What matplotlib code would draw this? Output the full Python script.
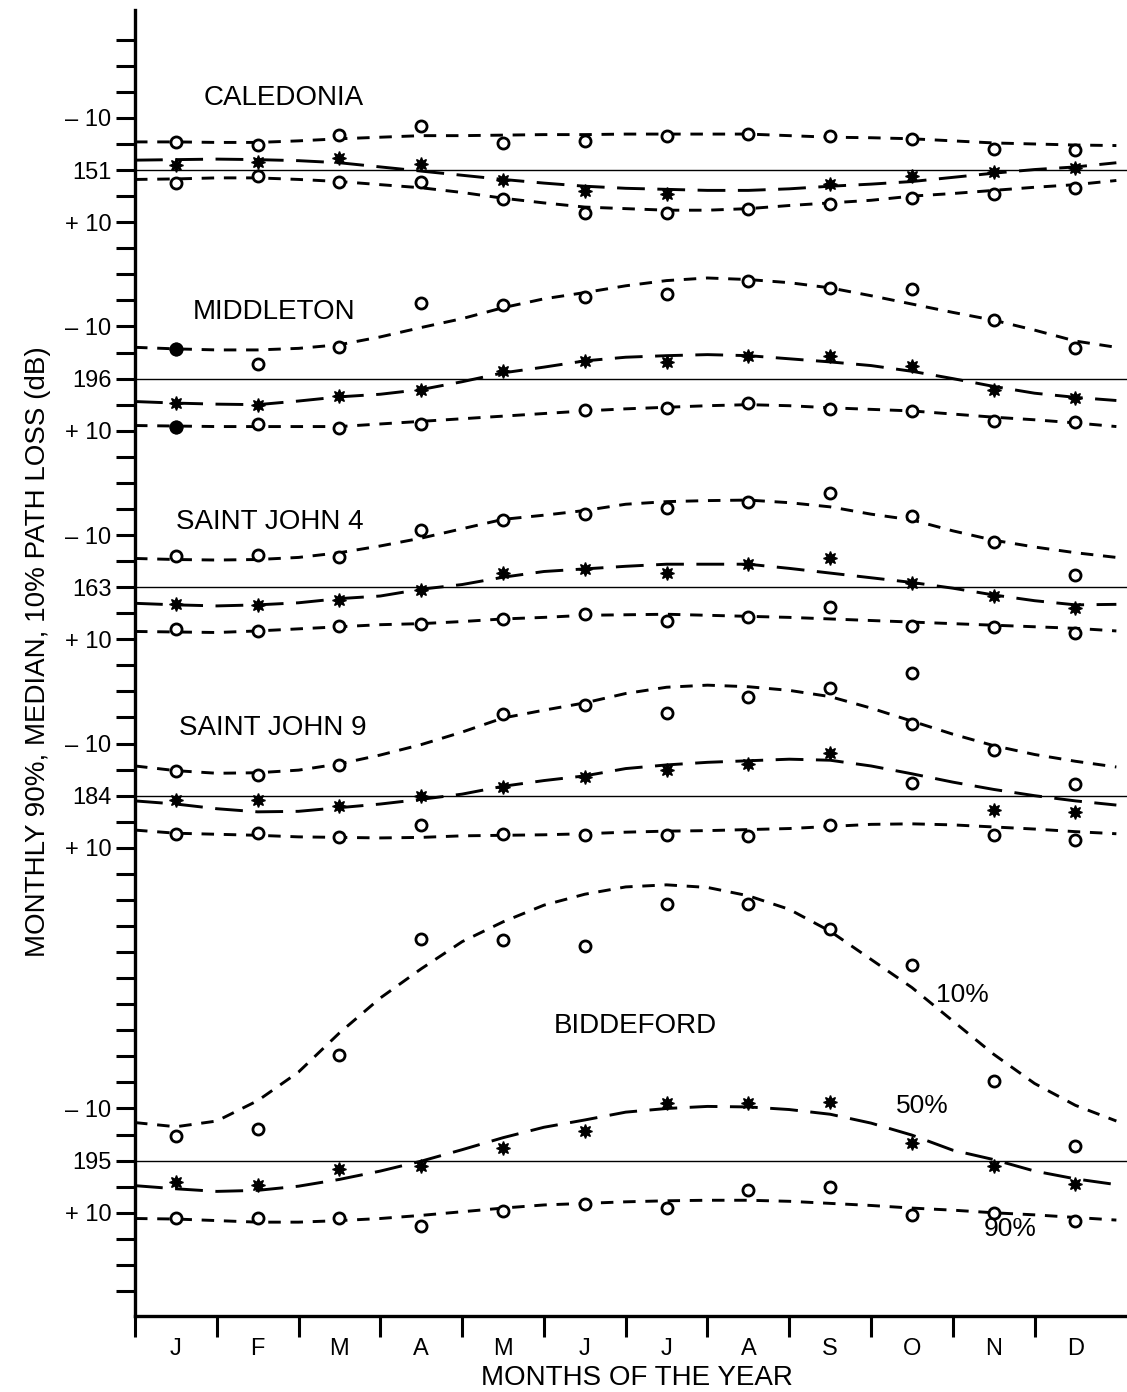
import numpy as np
import matplotlib
matplotlib.use('Agg')
import matplotlib.pyplot as plt

plt.rcParams['font.family'] = ['Liberation Sans', 'DejaVu Sans']
plt.rcParams['lines.scale_dashes'] = False

nan = np.nan

# months / stations
months = ['J', 'F', 'M', 'A', 'M', 'J', 'J', 'A', 'S', 'O', 'N', 'D']
stations = ['CALEDONIA', 'MIDDLETON', 'SAINT JOHN 4', 'SAINT JOHN 9', 'BIDDEFORD']
ref_loss = ['151', '196', '163', '184', '195']
offsets = [0, 40, 80, 120, 190]          # where each station's median sits on the axis (dB)

# monthly values, dB relative to the station's median (negative = less loss, drawn up)
cal_p10 = [-5.3, -4.9, -6.7, -8.4, -5.1, -5.5, -6.6, -7.0, -6.6, -6.0, -4.1, -3.9]
cal_p50 = [-0.9, -1.5, -2.3, -1.1, 2.0, 4.1, 4.5, nan, 2.6, 1.2, 0.3, -0.3]
cal_p90 = [2.5, 1.2, 2.3, 2.2, 5.6, 8.3, 8.3, 7.4, 6.6, 5.3, 4.5, 3.4]

mid_p10 = [-5.7, -2.8, -6.1, -14.5, -14.2, -15.7, -16.2, -18.7, -17.4, -17.2, -11.2, -5.9]
mid_p50 = [4.7, 5.0, 3.3, 2.2, -1.5, -3.4, -3.2, -4.3, -4.3, -2.4, 2.2, 3.7]
mid_p90 = [9.3, 8.7, 9.4, 8.7, nan, 6.0, 5.6, 4.7, 5.9, 6.2, 8.2, 8.3]
mid_filled = [0]                        # January circles are drawn solid

sj4_p10 = [-6.0, -6.2, -5.8, -11.0, -12.9, -14.0, -15.2, -16.3, -18.0, -13.6, -8.6, -2.3]
sj4_p50 = [3.2, 3.4, 2.5, 0.5, -2.7, -3.5, -2.7, -4.4, -5.6, -0.7, 1.7, 4.0]
sj4_p90 = [8.0, 8.4, 7.4, 7.1, 6.1, 5.2, 6.5, 5.8, 3.8, 7.5, 7.7, 8.8]

sj9_p10 = [-4.8, -3.9, -5.8, nan, -15.6, -17.3, -15.8, -19.0, -20.7, -13.8, -8.8, -2.3]
sj9_p50 = [0.9, 0.9, 1.9, 0.0, -1.6, -3.6, -5.0, -6.1, -8.2, nan, 2.7, 3.1]
sj9_p90 = [7.3, 7.1, 8.0, 5.7, 7.3, 7.5, 7.5, 7.7, 5.6, nan, 7.5, 8.5]
sj9_extra_month = [9, 9]               # two stray circles in October
sj9_extra_val = [-23.6, -2.5]

bid_p10 = [-4.7, -6.1, -20.3, -42.5, -42.3, -41.2, -49.2, -49.2, -44.4, -37.5, -15.2, -2.9]
bid_p50 = [4.1, 4.7, 1.6, 1.1, -2.4, -5.7, -11.0, -11.0, -11.2, -3.3, 1.1, 4.5]
bid_p90 = [11.0, 11.0, 11.0, 12.6, 9.7, 8.4, 9.1, 5.7, 5.1, 10.5, 10.1, 11.5]

# smoothed curves, read every half month from 0 to 12
curve_x = np.arange(25) * 0.5
cal_c10 = [-5.4, -5.4, -5.3, -5.3, -5.6, -6.0, -6.3, -6.6, -6.6, -6.7, -6.8, -6.8, -6.9,
           -6.9, -6.9, -6.9, -6.6, -6.3, -6.2, -6.0, -5.6, -5.2, -5.0, -4.8, -4.7]
cal_c50 = [-1.9, -2.0, -2.1, -2.0, -1.8, -1.4, -0.6, 0.2, 1.0, 1.8, 2.5, 3.1, 3.5,
           3.7, 3.9, 3.9, 3.6, 3.1, 2.7, 2.2, 1.4, 0.6, -0.1, -0.6, -1.4]
cal_c90 = [1.8, 1.7, 1.5, 1.5, 1.8, 2.2, 2.8, 3.4, 4.3, 5.4, 6.3, 7.1, 7.4,
           7.7, 7.7, 7.4, 6.8, 6.3, 5.8, 5.0, 4.5, 3.9, 3.3, 2.8, 2.0]

mid_c10 = [-6.0, -5.7, -5.5, -5.5, -5.8, -6.5, -8.0, -9.8, -11.5, -13.6, -15.3, -16.5, -17.8,
           -18.8, -19.3, -19.0, -18.4, -17.4, -15.9, -14.3, -12.7, -11.2, -9.3, -7.2, -6.0]
mid_c50 = [4.4, 4.7, 4.9, 5.0, 4.3, 3.5, 3.0, 2.1, 0.6, -1.1, -2.2, -3.4, -4.1,
           -4.4, -4.6, -4.4, -3.8, -3.2, -2.5, -1.4, 0.0, 1.5, 2.8, 3.6, 4.2]
mid_c90 = [9.0, 9.1, 9.2, 9.2, 9.2, 9.2, 8.7, 8.2, 7.7, 7.2, 6.7, 6.2, 5.8,
           5.5, 5.2, 5.0, 5.2, 5.6, 5.9, 6.2, 6.8, 7.4, 7.9, 8.5, 9.2]

sj4_c10 = [-5.5, -5.3, -5.2, -5.3, -5.7, -6.6, -7.9, -9.4, -11.2, -13.0, -13.8, -14.7, -15.9,
           -16.4, -16.6, -16.7, -16.2, -15.4, -14.0, -12.9, -10.8, -9.0, -7.7, -6.6, -5.7]
sj4_c50 = [3.1, 3.4, 3.6, 3.4, 3.0, 2.2, 1.7, 0.4, -0.5, -1.9, -3.0, -3.5, -4.0,
           -4.4, -4.4, -4.4, -3.6, -2.7, -1.8, -0.9, 0.2, 1.5, 2.6, 3.4, 3.3]
sj4_c90 = [8.5, 8.6, 8.7, 8.4, 8.0, 7.6, 7.2, 7.0, 6.6, 6.1, 5.8, 5.4, 5.3,
           5.2, 5.4, 5.6, 5.8, 6.1, 6.4, 6.7, 7.0, 7.3, 7.6, 7.9, 8.4]

sj9_c10 = [-5.7, -4.8, -4.3, -4.4, -4.9, -6.1, -7.8, -9.8, -12.2, -14.9, -16.4, -17.8, -19.6,
           -20.8, -21.2, -20.9, -20.2, -19.0, -16.8, -14.3, -11.8, -9.6, -7.9, -6.6, -5.5]
sj9_c50 = [1.0, 1.6, 2.5, 3.1, 3.0, 2.3, 1.6, 0.7, -0.3, -1.8, -2.9, -3.8, -5.2,
           -5.9, -6.4, -6.7, -7.0, -6.8, -5.7, -4.2, -2.6, -1.2, 0.0, 1.0, 1.8]
sj9_c90 = [6.6, 7.2, 7.4, 7.6, 7.9, 8.0, 8.1, 8.0, 7.7, 7.6, 7.5, 7.3, 7.0,
           6.8, 6.7, 6.5, 6.3, 5.9, 5.5, 5.4, 5.6, 6.0, 6.4, 6.9, 7.3]

bid_c10 = [-7.3, -6.5, -7.6, -11.5, -17.0, -24.5, -31.2, -36.8, -42.0, -45.8, -49.0, -51.1, -52.5,
           -52.9, -52.4, -50.8, -48.2, -44.0, -38.6, -33.2, -26.8, -20.4, -14.8, -10.6, -7.6]
bid_c50 = [4.8, 5.4, 5.9, 5.7, 4.9, 3.6, 2.0, 0.1, -2.1, -4.4, -6.4, -7.8, -9.3,
           -10.0, -10.4, -10.3, -9.8, -8.9, -7.2, -4.9, -2.0, -0.2, 2.0, 3.5, 4.6]
bid_c90 = [11.1, 11.2, 11.5, 11.8, 11.8, 11.5, 11.1, 10.5, 9.8, 9.1, 8.5, 8.2, 7.9,
           7.7, 7.6, 7.6, 7.8, 8.2, 8.6, 9.1, 9.5, 10.0, 10.4, 10.9, 11.4]

points = [(cal_p10, cal_p50, cal_p90), (mid_p10, mid_p50, mid_p90), (sj4_p10, sj4_p50, sj4_p90),
          (sj9_p10, sj9_p50, sj9_p90), (bid_p10, bid_p50, bid_p90)]
curves = [(cal_c10, cal_c50, cal_c90), (mid_c10, mid_c50, mid_c90), (sj4_c10, sj4_c50, sj4_c90),
          (sj9_c10, sj9_c50, sj9_c90), (bid_c10, bid_c50, bid_c90)]

# label positions (month, dB on the axis)
name_pos = [(1.82, -13.8), (1.70, 27.3), (1.65, 67.6), (1.69, 107.1), (6.12, 164.1)]

W, H = 1127, 1392
fig = plt.figure(figsize=(W / 100, H / 100), dpi=100)
ax = fig.add_axes([135 / W, 1 - 1316 / H, 1 - 135 / W, 1306 / H])

month_x = np.arange(12) + 0.5
short = (9, 7)
long_ = (20, 9)
lw = 2.1
circ = dict(ls='none', marker='o', ms=8, mfc='white', mec='black', mew=2.0)

for i, name in enumerate(stations):
    off = offsets[i]
    ax.axhline(off, color='black', lw=1.0)
    c10, c50, c90 = curves[i]
    ax.plot(curve_x, np.array(c10) + off, color='black', lw=lw, dashes=short)
    ax.plot(curve_x, np.array(c50) + off, color='black', lw=lw, dashes=long_)
    ax.plot(curve_x, np.array(c90) + off, color='black', lw=lw, dashes=short)
    p10, p50, p90 = points[i]
    for p in (p10, p90):
        ax.plot(month_x, np.array(p) + off, **circ)
    ax.plot(month_x, np.array(p50) + off, ls='none', marker=(8, 1, 0), ms=10,
            color='black')
    ax.text(name_pos[i][0], name_pos[i][1], name, fontsize=20, ha='center', va='center')

# solid January circles at Middleton
for p in (mid_p10, mid_p90):
    ax.plot(month_x[mid_filled], np.array(p)[mid_filled] + offsets[1], ls='none',
            marker='o', ms=9, color='black')

ax.plot(np.array(sj9_extra_month) + 0.5, np.array(sj9_extra_val) + offsets[3], **circ)

ax.text(10.12, 158.3, '10%', fontsize=19, ha='center', va='center')
ax.text(9.63, 179.5, '50%', fontsize=19, ha='center', va='center')
ax.text(10.70, 203.1, '90%', fontsize=19, ha='center', va='center')

ax.set_xlim(0, 12.13)
ax.set_ylim(219.8, -30.7)

for s in ['top', 'right']:
    ax.spines[s].set_visible(False)
for s in ['left', 'bottom']:
    ax.spines[s].set_linewidth(2.4)

# y ticks every 5 dB, labels at -10 / median / +10
yt = np.arange(-25, 216, 5)
ylab = {}
for off, ref in zip(offsets, ref_loss):
    ylab[off - 10] = '\u2013 10'
    ylab[off] = ref
    ylab[off + 10] = '+ 10'
ax.set_yticks(yt)
ax.set_yticklabels([ylab.get(int(v), '') for v in yt])
ax.tick_params(axis='y', direction='out', length=14, width=2.2, labelsize=17, pad=3)

ax.set_xticks(np.arange(0, 12))
ax.set_xticklabels([])
ax.set_xticks(month_x, minor=True)
ax.set_xticklabels(months, minor=True)
ax.tick_params(axis='x', which='major', direction='out', length=15, width=2.2)
ax.tick_params(axis='x', which='minor', length=0, labelsize=17, pad=16)

fig.text(637 / W, 1 - 1378 / H, 'MONTHS OF THE YEAR', fontsize=20, ha='center', va='center')
fig.text(38 / W, 1 - 652 / H, 'MONTHLY 90%, MEDIAN, 10% PATH LOSS (dB)', fontsize=20,
         rotation=90, ha='center', va='center')

fig.savefig('out.png', dpi=100, facecolor='white')
